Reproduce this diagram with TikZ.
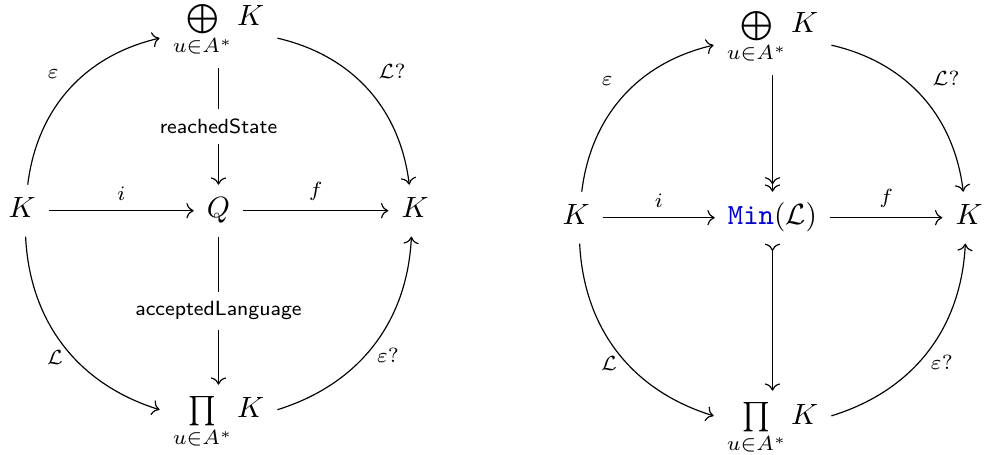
\documentclass[tikz,border=0pt]{standalone}
\usetikzlibrary{arrows.meta}
\definecolor{cmin}{HTML}{0000CC}

\begin{document}
\begin{tikzpicture}[
  x=0.012cm, y=-0.012cm,
  obj/.style={anchor=base, inner xsep=1ex, inner ysep=0.85ex},
  row/.style={obj, text height=0.75em, text depth=0.25em},
  arr/.style={-{Computer Modern Rightarrow}},
  epi/.style={-{Computer Modern Rightarrow[]Computer Modern Rightarrow[]}},
  mono/.style={{Computer Modern Rightarrow[reversed]}-{Computer Modern Rightarrow}},
  lbl/.style={font=\scriptsize},
  desc/.style={fill=white, font=\scriptsize\sffamily}
]
\useasboundingbox (0,0) rectangle (984,455);

% left diagram
\node[row] (kl)  at (22,218)    {$K$};
\node[row] (q)   at (218.5,218) {$Q$};
\node[row] (kr)  at (415,218)   {$K$};
\node[obj] (sum) at (218.5,26)  {$\bigoplus\limits_{u\in A^*} K$};
\node[obj] (prd) at (218.5,418) {$\prod\limits_{u\in A^*} K$};

\draw[arr] (kl) -- node[lbl, above] {$i$} (q);
\draw[arr] (q) -- node[lbl, above] {$f$} (kr);
\draw[arr] (sum) -- node[desc] {reachedState} (q);
\draw[arr] (q) -- node[desc] {acceptedLanguage} (prd);
\draw[arr] (kl) to[bend left=35] node[lbl, above left] {$\varepsilon$} (sum);
\draw[arr] (sum) to[bend left=35] node[lbl, above right] {$\mathcal{L}?$} (kr);
\draw[arr] (kl) to[bend right=35] node[lbl, below left, xshift=3.4pt, yshift=2pt] {$\mathcal{L}$} (prd);
\draw[arr] (prd) to[bend right=35] node[lbl, below right, xshift=-2.4pt, yshift=2.7pt] {$\varepsilon?$} (kr);

% right diagram
\node[row] (kl2)  at (576,225)   {$K$};
\node[row] (min)  at (772.5,225) {$\textcolor{cmin}{\texttt{Min}}(\mathcal{L})$};
\node[row] (kr2)  at (969,225)   {$K$};
\node[obj] (sum2) at (772.5,33)  {$\bigoplus\limits_{u\in A^*} K$};
\node[obj] (prd2) at (772.5,424) {$\prod\limits_{u\in A^*} K$};

\draw[arr] (kl2) -- node[lbl, above] {$i$} (min);
\draw[arr] (min) -- node[lbl, above] {$f$} (kr2);
\draw[epi] (sum2) -- (min);
\draw[mono] (min) -- (prd2);
\draw[arr] (kl2) to[bend left=35] node[lbl, above left] {$\varepsilon$} (sum2);
\draw[arr] (sum2) to[bend left=35] node[lbl, above right] {$\mathcal{L}?$} (kr2);
\draw[arr] (kl2) to[bend right=35] node[lbl, below left, xshift=3.4pt, yshift=2pt] {$\mathcal{L}$} (prd2);
\draw[arr] (prd2) to[bend right=35] node[lbl, below right, xshift=-2.4pt, yshift=2.7pt] {$\varepsilon?$} (kr2);
\end{tikzpicture}
\end{document}
